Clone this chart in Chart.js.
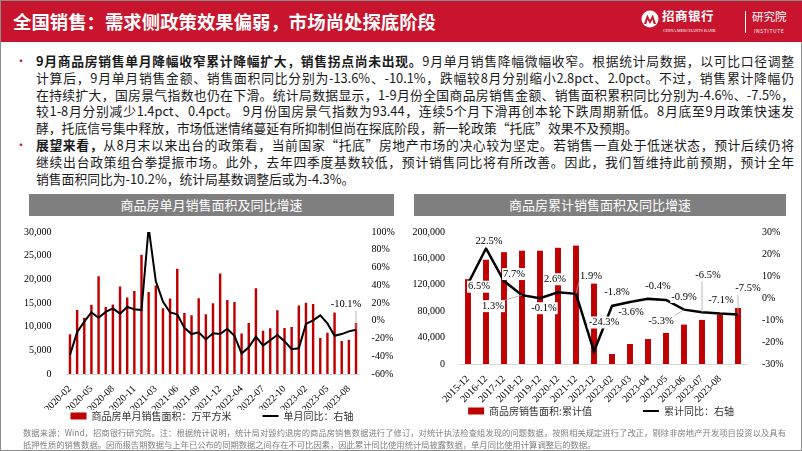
<!DOCTYPE html>
<html>
<head>
<meta charset="utf-8">
<script src="https://cdn.jsdelivr.net/npm/chart.js@4.4.0/dist/chart.umd.min.js"></script>
<style>
  body { margin: 0; width: 802px; height: 451px; overflow: hidden; background: #fff; font-family: "Noto Sans CJK SC", sans-serif; }
  #page { position: absolute; left: 0; top: 0; width: 802px; height: 451px; box-sizing: border-box; border: 1px solid #8c8c8c; }
  #head { position: absolute; left: 0; top: 0; width: 802px; height: 41px; background: #c8152d; }
  #title { position: absolute; left: 12px; top: 8px; font-size: 18.4px; line-height: 24px; font-weight: 700; color: #fff; white-space: nowrap; }
  .lg { position: absolute; color: #fff; white-space: nowrap; }
  .ln { position: absolute; left: 35px; width: 758px; height: 17px; font-size: 12.8px; line-height: 17px; color: #1a1a1a; white-space: nowrap; text-align: justify; text-align-last: justify; }
  .ln.end { text-align-last: left; }
  .ln b { font-weight: 700; }
  .dot { position: absolute; left: 14px; color: #c8152d; font-size: 12px; line-height: 17px; }
  .cap { position: absolute; top: 193px; height: 22px; background: #7f7f7f; color: #fff; font-size: 13px; line-height: 22px; text-align: center; }
  canvas { position: absolute; }
  .fn { position: absolute; left: 22px; width: 763px; font-size: 8.3px; line-height: 12px; color: #808080; white-space: nowrap; text-align: justify; text-align-last: justify; }
  .fn.end { text-align-last: left; }
</style>
</head>
<body>
<div id="page">
  <div id="head">
    <div id="title">全国销售：需求侧政策效果偏弱，市场尚处探底阶段</div>
    <svg style="position:absolute;left:640px;top:9px" width="18" height="18" viewBox="0 0 18 18">
      <circle cx="9" cy="9" r="8.5" fill="#fff"/>
      <path d="M3 14 L6.2 4.5 L9 10 L11.8 4.5 L15 14 L12.6 14 L11.6 9.5 L9 14 L6.4 9.5 L5.4 14 Z" fill="#c8152d"/>
    </svg>
    <div class="lg" style="left:661px;top:7px;font-size:12.5px;line-height:16px;font-weight:700;letter-spacing:0.5px">招商银行</div>
    <div class="lg" style="left:662px;top:27px;font-size:4.2px;line-height:6px;font-family:'Liberation Serif'">CHINA MERCHANTS BANK</div>
    <div style="position:absolute;left:744px;top:10px;width:1px;height:22px;background:#fff"></div>
    <div class="lg" style="left:751px;top:7px;font-size:11.5px;line-height:16px">研究院</div>
    <div class="lg" style="left:753px;top:27px;font-size:5px;line-height:6px;letter-spacing:0.6px">INSTITUTE</div>
  </div>

  <div class="dot" style="top:51px">•</div>
  <div class="ln" style="top:51px"><b>9月商品房销售单月降幅收窄累计降幅扩大，销售拐点尚未出现。</b>9月单月销售降幅微幅收窄。根据统计局数据，以可比口径调整</div>
  <div class="ln" style="top:67.8px">计算后，9月单月销售金额、销售面积同比分别为-13.6%、-10.1%，跌幅较8月分别缩小2.8pct、2.0pct。不过，销售累计降幅仍</div>
  <div class="ln" style="top:84.6px">在持续扩大，国房景气指数也仍在下滑。统计局数据显示，1-9月份全国商品房销售金额、销售面积累积同比分别为-4.6%、-7.5%，</div>
  <div class="ln" style="top:101.4px">较1-8月分别减少1.4pct、0.4pct。 9月份国房景气指数为93.44，连续5个月下滑再创本轮下跌周期新低。8月底至9月政策快速发</div>
  <div class="ln end" style="top:118.2px">酵，托底信号集中释放，市场低迷情绪蔓延有所抑制但尚在探底阶段，新一轮政策“托底”效果不及预期。</div>
  <div class="dot" style="top:135px">•</div>
  <div class="ln" style="top:135px"><b>展望来看，</b>从8月末以来出台的政策看，当前国家“托底”房地产市场的决心较为坚定。若销售一直处于低迷状态，预计后续仍将</div>
  <div class="ln" style="top:151.8px">继续出台政策组合拳提振市场。此外，去年四季度基数较低，预计销售同比将有所改善。因此，我们暂维持此前预期，预计全年</div>
  <div class="ln end" style="top:168.6px">销售面积同比为-10.2%，统计局基数调整后或为-4.3%。</div>

  <div class="cap" style="left:28px;width:365px">商品房单月销售面积及同比增速</div>
  <div class="cap" style="left:413px;width:372px">商品房累计销售面积及同比增速</div>

  <canvas id="left" width="394" height="212" style="left:8px;top:218px"></canvas>
  <canvas id="right" width="390" height="207" style="left:405px;top:218px"></canvas>

  <div class="fn" style="top:425px">数据来源：Wind，招商银行研究院。注：根据统计说明，统计局对毁约退房的商品房销售数据进行了修订，对统计执法检查组发现的问题数据，按照相关规定进行了改正，剔除非房地产开发项目投资以及具有</div>
  <div class="fn end" style="top:437px">抵押性质的销售数据。因而报告期数据与上年已公布的同期数据之间存在不可比因素，因此累计同比使用统计局披露数据，单月同比使用计算调整后的数据。</div>
</div>

<script>
"use strict";

// 单月：商品房销售面积（万平方米）与单月同比（%）
var monthLabels = [
  "2020-02", "2020-03", "2020-04", "2020-05", "2020-06", "2020-07", "2020-08", "2020-09", "2020-10", "2020-11", "2020-12",
  "2021-02", "2021-03", "2021-04", "2021-05", "2021-06", "2021-07", "2021-08", "2021-09", "2021-10", "2021-11", "2021-12",
  "2022-02", "2022-03", "2022-04", "2022-05", "2022-06", "2022-07", "2022-08", "2022-09", "2022-10", "2022-11", "2022-12",
  "2023-02", "2023-03", "2023-04", "2023-05", "2023-06", "2023-07", "2023-08", "2023-09"
];
var monthArea = [
  8400, 13500, 11900, 14650, 20650, 14130, 14700, 18480, 16160, 17540, 25220,
  17320, 18700, 13900, 15940, 22250, 12900, 12400, 16000, 12600, 14930, 21230,
  15650, 15220, 8550, 10800, 18100, 9130, 9640, 13480, 9710, 9930, 14490,
  15070, 14780, 7610, 8700, 12970, 6960, 7250, 10800
];
var monthYoY = [
  -38.6, -13, -1, 9.3, 3.3, 10, 14, 8, 15.5, 13, 12,
  105, 44.7, 21.6, 9.3, 7.3, -8, -15, -13, -21, -14, -15,
  -9, -17, -37, -30, -18, -28, -22, -16, -23, -32, -31,
  -3.6, 0.5, 6, -3, -17, -15, -12, -10.1
];

// 累计：商品房销售面积累计值（万平方米）与累计同比（%）
var cumLabels = [
  "2015-12", "2016-12", "2017-12", "2018-12", "2019-12", "2020-12", "2021-12", "2022-12",
  "2023-02", "2023-03", "2023-04", "2023-05", "2023-06", "2023-07", "2023-08", "2023-09"
];
var cumArea = [128500, 157900, 169400, 171700, 171600, 176100, 179400, 121800, 15100, 30300, 37800, 47000, 59700, 66800, 75000, 84900];
var cumYoY = [6.5, 22.5, 7.7, 1.3, -0.1, 2.6, 1.9, -24.3, -3.6, -1.8, -0.4, -0.9, -5.3, -6.5, -7.1, -7.5];

Chart.defaults.font.family = "'Liberation Serif', serif";
Chart.defaults.font.size = 10;
Chart.defaults.color = "#000";

// 数据标签（带引导线）
var pctLabels = {
  id: "pctLabels",
  afterDatasetsDraw: function (chart, args, opts) {
    if (!opts.items) return;
    var meta = chart.getDatasetMeta(opts.dataset);
    var values = chart.data.datasets[opts.dataset].data;
    var ctx = chart.ctx;
    ctx.save();
    ctx.font = "10.5px 'Liberation Serif'";
    ctx.textAlign = "center";
    ctx.textBaseline = "middle";
    opts.items.forEach(function (it) {
      var pt = meta.data[it.i];
      var txt = values[it.i].toFixed(1) + "%";
      var x = pt.x + it.dx;
      var y = pt.y + it.dy;
      var w = ctx.measureText(txt).width + 2;
      var h = 12;
      if (it.lead) {
        var sx = Math.max(x - w / 2, Math.min(pt.x, x + w / 2));
        var sy = Math.max(y - h / 2, Math.min(pt.y, y + h / 2));
        ctx.strokeStyle = "#a6a6a6";
        ctx.lineWidth = 0.8;
        ctx.beginPath();
        ctx.moveTo(sx, sy);
        ctx.lineTo(pt.x, pt.y);
        ctx.stroke();
      }
      ctx.fillStyle = "#fff";
      ctx.fillRect(x - w / 2, y - h / 2, w, h);
      ctx.fillStyle = "#000";
      ctx.fillText(txt, x, y);
    });
    ctx.restore();
  }
};

// 图例：两项之间的间距用全角空格撑开，避免 padding 把图例撑高
function legendOpts(gap) {
  return {
    position: "bottom",
    labels: {
      usePointStyle: true,
      pointStyleWidth: 16,
      boxHeight: 7,
      padding: 1,
      color: "#333",
      font: { family: "'Noto Sans CJK SC'", size: 10 },
      generateLabels: function (chart) {
        var items = Chart.defaults.plugins.legend.labels.generateLabels(chart);
        items.sort(function (a, b) { return a.datasetIndex - b.datasetIndex; });
        if (items.length) items[0].text = items[0].text + gap;
        return items;
      }
    }
  };
}

new Chart(document.getElementById("left"), {
  data: {
    labels: monthLabels,
    datasets: [
      {
        type: "bar",
        label: "商品房单月销售面积：万平方米",
        data: monthArea,
        yAxisID: "y",
        backgroundColor: "#c00000",
        barPercentage: 0.34,
        categoryPercentage: 1,
        pointStyle: "rect",
        order: 1
      },
      {
        type: "line",
        label: "单月同比：右轴",
        data: monthYoY,
        yAxisID: "y1",
        borderColor: "#000",
        backgroundColor: "#000",
        borderWidth: 2,
        pointRadius: 0,
        pointStyle: "line",
        pointBorderColor: "#000",
        pointBorderWidth: 2,
        tension: 0,
        order: 0
      }
    ]
  },
  options: {
    responsive: false,
    animation: false,
    devicePixelRatio: 1,
    layout: { padding: { top: 13, left: 12, right: 0, bottom: 0 } },
    plugins: {
      legend: legendOpts("\u3000\u3000\u3000"),
      tooltip: { enabled: false },
      pctLabels: { dataset: 1, items: [{ i: 40, dx: -10, dy: -25, lead: true }] }
    },
    scales: {
      x: {
        grid: { display: false },
        border: { color: "#d9d9d9" },
        ticks: {
          autoSkip: false, minRotation: 45, maxRotation: 45, padding: 1,
          callback: function (v, i) { return i % 3 === 0 ? this.getLabelForValue(v) : ""; }
        },
        afterFit: function (s) { s.height = 36; }
      },
      y: {
        position: "left", min: 0, max: 30000,
        grid: { display: false }, border: { display: false },
        ticks: { stepSize: 5000, padding: 7, callback: function (v) { return v.toLocaleString("en-US"); } },
        afterFit: function (s) { s.width = 45.4; }
      },
      y1: {
        position: "right", min: -60, max: 100,
        grid: { display: false }, border: { display: false },
        ticks: { stepSize: 20, padding: 4, callback: function (v) { return v + "%"; } },
        afterFit: function (s) { s.width = 43.4; }
      }
    }
  },
  plugins: [pctLabels]
});

new Chart(document.getElementById("right"), {
  data: {
    labels: cumLabels,
    datasets: [
      {
        type: "bar",
        label: "商品房销售面积:累计值",
        data: cumArea,
        yAxisID: "y",
        backgroundColor: "#c00000",
        barPercentage: 0.33,
        categoryPercentage: 1,
        pointStyle: "rect",
        order: 1
      },
      {
        type: "line",
        label: "累计同比：右轴",
        data: cumYoY,
        yAxisID: "y1",
        borderColor: "#000",
        backgroundColor: "#000",
        borderWidth: 2.5,
        pointRadius: 0,
        pointStyle: "line",
        pointBorderColor: "#000",
        pointBorderWidth: 2,
        tension: 0,
        order: 0
      }
    ]
  },
  options: {
    responsive: false,
    animation: false,
    devicePixelRatio: 1,
    layout: { padding: { top: 12, left: 0, right: 0, bottom: 0 } },
    plugins: {
      legend: legendOpts("\u3000\u3000\u3000\u3000\u3000"),
      tooltip: { enabled: false },
      pctLabels: {
        dataset: 1,
        items: [
          { i: 0, dx: 11, dy: 3 }, { i: 1, dx: 3, dy: -7 }, { i: 2, dx: 10, dy: -7 },
          { i: 3, dx: -29, dy: 11, lead: true }, { i: 4, dx: 4, dy: 10 }, { i: 5, dx: -3, dy: -13 },
          { i: 6, dx: 15, dy: -18, lead: true }, { i: 7, dx: 10, dy: -29 }, { i: 8, dx: 19, dy: 6 },
          { i: 9, dx: -13, dy: -10 }, { i: 10, dx: 10, dy: -13 }, { i: 11, dx: 18, dy: -3 },
          { i: 12, dx: -23, dy: 12, lead: true }, { i: 13, dx: 6, dy: -37, lead: true },
          { i: 14, dx: 1, dy: -13 }, { i: 15, dx: 10, dy: -26, lead: true }
        ]
      }
    },
    scales: {
      x: {
        grid: { display: false },
        border: { color: "#d9d9d9" },
        ticks: {
          autoSkip: false, minRotation: 45, maxRotation: 45, padding: 1,
          // 原图最后一根柱子没有横轴标签
          callback: function (v, i) { return i < cumLabels.length - 1 ? this.getLabelForValue(v) : ""; }
        },
        afterFit: function (s) { s.height = 41; }
      },
      y: {
        position: "left", min: 0, max: 200000,
        grid: { display: false }, border: { display: false },
        ticks: { stepSize: 20000, padding: 6, callback: function (v) { return v.toLocaleString("en-US"); } },
        afterFit: function (s) { s.width = 53; }
      },
      y1: {
        position: "right", min: -30, max: 30,
        grid: { display: false }, border: { display: false },
        ticks: { stepSize: 10, padding: 7, callback: function (v) { return v + "%"; } },
        afterFit: function (s) { s.width = 49; }
      }
    }
  },
  plugins: [pctLabels]
});
</script>
</body>
</html>
